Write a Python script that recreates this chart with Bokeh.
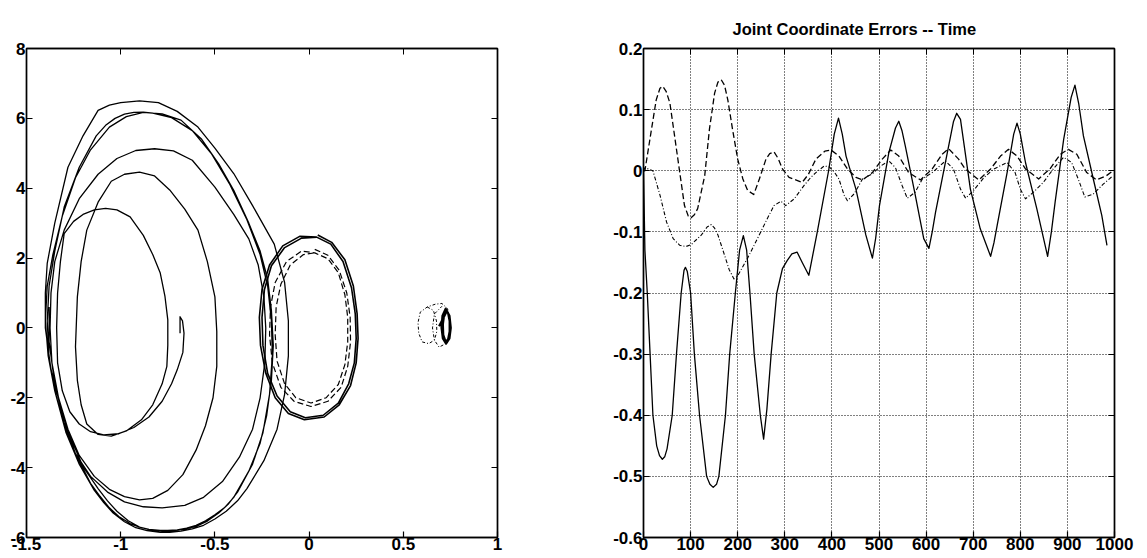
from bokeh.plotting import figure
from bokeh.layouts import row
from bokeh.models import LinearAxis, Range1d, FixedTicker
from bokeh.embed import file_html
from bokeh.resources import INLINE

FONT = "Liberation Sans"

# ---------------- left panel: phase portrait ----------------
spiral_xy = [
    (-0.685, -0.15), (-0.685, 0.32), (-0.672, 0.2), (-0.664, -0.15), (-0.67, -0.7), (-0.70, -1.2),
    (-0.73, -1.6), (-0.78, -2.1), (-0.85, -2.55), (-0.93, -2.85), (-1.01, -3.03), (-1.09, -3.06),
    (-1.16, -2.97), (-1.22, -2.75), (-1.27, -2.4), (-1.31, -1.8), (-1.335, -1.0), (-1.34, 0.0),
    (-1.335, 1.0), (-1.32, 1.9), (-1.30, 2.7), (-1.25, 3.05), (-1.20, 3.25), (-1.14, 3.38),
    (-1.08, 3.42), (-1.02, 3.38), (-0.95, 3.18), (-0.88, 2.65), (-0.83, 2.1), (-0.79, 1.57),
    (-0.765, 0.9), (-0.75, 0.23), (-0.75, -0.5), (-0.755, -1.1), (-0.78, -1.6), (-0.83, -2.2),
    (-0.89, -2.63), (-0.97, -2.95), (-1.05, -3.1), (-1.12, -3.05), (-1.18, -2.75), (-1.21, -2.2),
    (-1.23, -1.5), (-1.24, -0.54), (-1.23, 0.89), (-1.21, 1.9), (-1.18, 2.8), (-1.12, 3.6),
    (-1.05, 4.2), (-0.98, 4.4), (-0.90, 4.46), (-0.82, 4.35), (-0.74, 3.95), (-0.66, 3.4),
    (-0.59, 2.8), (-0.54, 1.9), (-0.50, 0.89), (-0.49, -0.1), (-0.49, -1.1), (-0.51, -2.0),
    (-0.55, -2.8), (-0.60, -3.5), (-0.67, -4.2), (-0.75, -4.65), (-0.83, -4.88), (-0.90, -4.92),
    (-0.98, -4.83), (-1.06, -4.62), (-1.14, -4.25), (-1.22, -3.65), (-1.28, -2.9), (-1.33, -2.0),
    (-1.365, -1.0), (-1.375, 0.0), (-1.37, 1.0), (-1.35, 1.9), (-1.30, 2.8), (-1.22, 3.7),
    (-1.12, 4.4), (-1.02, 4.85), (-0.92, 5.08), (-0.82, 5.13), (-0.72, 5.07), (-0.62, 4.8),
    (-0.50, 4.03), (-0.40, 3.25), (-0.32, 2.55), (-0.27, 1.8), (-0.24, 0.9), (-0.23, 0.0),
    (-0.235, -1.0), (-0.26, -2.0), (-0.30, -2.9), (-0.37, -3.7), (-0.46, -4.4), (-0.56, -4.85),
    (-0.66, -5.08), (-0.78, -5.15), (-0.88, -5.12), (-0.98, -4.98), (-1.07, -4.7), (-1.16, -4.25),
    (-1.24, -3.6), (-1.30, -2.8), (-1.35, -1.8), (-1.385, -0.8), (-1.40, 0.2), (-1.39, 1.2),
    (-1.36, 2.1), (-1.31, 3.2), (-1.24, 4.3), (-1.16, 5.1), (-1.06, 5.75), (-0.97, 6.05),
    (-0.88, 6.17), (-0.78, 6.13), (-0.68, 5.95), (-0.57, 5.4), (-0.48, 4.7), (-0.40, 3.94),
    (-0.32, 3.0), (-0.26, 2.2), (-0.22, 1.4), (-0.20, 0.5), (-0.19, -0.5), (-0.20, -1.5),
    (-0.225, -2.5), (-0.26, -3.3), (-0.32, -4.1), (-0.40, -4.85), (-0.45, -5.15), (-0.50, -5.35),
    (-0.55, -5.52), (-0.60, -5.65), (-0.65, -5.73), (-0.70, -5.78), (-0.75, -5.8), (-0.79, -5.8),
    (-0.85, -5.77), (-0.90, -5.7), (-0.96, -5.52), (-1.02, -5.25), (-1.07, -4.95), (-1.12, -4.6),
    (-1.20, -3.97), (-1.27, -3.1), (-1.32, -2.2), (-1.37, -1.2), (-1.40, 0.0), (-1.40, 1.0),
    (-1.39, 1.85), (-1.35, 3.0), (-1.28, 4.6), (-1.20, 5.5), (-1.12, 6.23), (-1.06, 6.38),
    (-1.00, 6.45), (-0.90, 6.5), (-0.80, 6.45), (-0.70, 6.2), (-0.59, 5.75), (-0.50, 5.15),
    (-0.40, 4.42), (-0.30, 3.5), (-0.185, 2.4), (-0.13, 1.3), (-0.11, 0.2), (-0.11, -0.8),
    (-0.13, -1.9), (-0.17, -2.9), (-0.24, -3.8), (-0.33, -4.6), (-0.38, -4.95), (-0.44, -5.25),
    (-0.50, -5.47), (-0.56, -5.65), (-0.62, -5.75), (-0.68, -5.82), (-0.74, -5.85), (-0.79, -5.85),
    (-0.86, -5.8), (-0.92, -5.72), (-0.98, -5.55), (-1.04, -5.3), (-1.09, -5.0), (-1.14, -4.65),
    (-1.22, -3.9), (-1.29, -3.0), (-1.34, -2.0), (-1.38, -0.9), (-1.39, 0.2), (-1.38, 1.2),
    (-1.35, 2.2), (-1.30, 3.46), (-1.22, 4.6), (-1.13, 5.5), (-1.08, 5.8), (-1.03, 6.0),
    (-0.98, 6.12), (-0.93, 6.17), (-0.88, 6.18), (-0.83, 6.15), (-0.73, 6.02), (-0.62, 5.65),
    (-0.52, 5.0), (-0.42, 4.1), (-0.33, 3.1), (-0.26, 2.1), (-0.22, 1.2), (-0.20, 0.2),
    (-0.195, -0.8), (-0.21, -1.9), (-0.245, -3.0), (-0.30, -3.9), (-0.38, -4.7), (-0.43, -5.05),
    (-0.48, -5.3), (-0.54, -5.53), (-0.60, -5.68), (-0.66, -5.76), (-0.72, -5.8), (-0.78, -5.81),
    (-0.84, -5.78), (-0.90, -5.7), (-0.95, -5.6), (-1.01, -5.4), (-1.06, -5.15), (-1.11, -4.82),
    (-1.16, -4.45), (-1.24, -3.6), (-1.30, -2.7), (-1.35, -1.6), (-1.38, -0.4), (-1.38, 0.6),
]

loop_solid_xy = [
    (0.046, 2.66), (0.12, 2.45), (0.19, 1.95), (0.235, 1.2), (0.255, 0.4), (0.26, -0.3),
    (0.25, -1.0), (0.22, -1.65), (0.16, -2.2), (0.08, -2.55), (-0.025, -2.63), (-0.11, -2.45),
    (-0.18, -2.0), (-0.23, -1.3), (-0.258, -0.5), (-0.264, 0.3), (-0.25, 1.1), (-0.21, 1.8),
    (-0.14, 2.35), (-0.05, 2.62), (0.04, 2.6), (0.115, 2.4), (0.18, 1.9), (0.225, 1.15),
    (0.245, 0.4), (0.25, -0.3), (0.24, -1.0), (0.21, -1.6), (0.155, -2.15), (0.075, -2.5),
    (-0.02, -2.57), (-0.10, -2.4), (-0.17, -1.95), (-0.22, -1.3), (-0.245, -0.5), (-0.25, 0.3),
    (-0.237, 1.1), (-0.20, 1.78), (-0.13, 2.3), (-0.04, 2.57), (0.04, 2.6),
]

loop_dashed_xy = [
    (0.03, 2.25), (0.10, 2.08), (0.16, 1.65), (0.20, 1.0), (0.218, 0.3), (0.22, -0.4),
    (0.205, -1.1), (0.17, -1.7), (0.10, -2.1), (0.01, -2.25), (-0.08, -2.1), (-0.15, -1.7),
    (-0.195, -1.0), (-0.21, -0.2), (-0.205, 0.6), (-0.18, 1.3), (-0.12, 1.9), (-0.04, 2.2),
    (0.03, 2.15), (0.10, 1.98), (0.155, 1.58), (0.19, 0.95), (0.205, 0.3), (0.205, -0.4),
    (0.19, -1.05), (0.155, -1.62), (0.09, -2.0), (0.01, -2.15), (-0.07, -2.0), (-0.13, -1.6),
    (-0.17, -0.95), (-0.18, -0.2), (-0.175, 0.6), (-0.15, 1.25), (-0.10, 1.8), (-0.03, 2.1),
    (0.03, 2.15),
]

small_dashdot_xy = [
    (0.627, 0.6), (0.66, 0.5), (0.676, 0.2), (0.678, -0.1), (0.665, -0.35), (0.635, -0.45),
    (0.60, -0.4), (0.582, -0.15), (0.578, 0.15), (0.59, 0.45), (0.627, 0.6), (0.67, 0.68),
    (0.705, 0.7), (0.735, 0.55), (0.748, 0.2), (0.745, -0.2), (0.725, -0.45), (0.69, -0.55),
    (0.665, -0.35), (0.655, 0.0), (0.665, 0.4), (0.705, 0.62),
]

small_solid_xy = [
    (0.725, 0.55), (0.745, 0.35), (0.752, 0.0), (0.745, -0.3), (0.727, -0.45), (0.71, -0.3),
    (0.703, 0.0), (0.708, 0.35), (0.725, 0.55), (0.738, 0.42), (0.746, 0.2), (0.746, -0.1),
    (0.738, -0.32), (0.725, -0.4), (0.712, -0.2), (0.71, 0.1), (0.716, 0.35), (0.728, 0.45),
    (0.69, 0.05),
]

left_xticks = [-1.5, -1, -0.5, 0, 0.5, 1]
left_xlabels = ["-1.5", "-1", "-0.5", "0", "0.5", "1"]
left_yticks = [-6, -4, -2, 0, 2, 4, 6, 8]
left_ylabels = ["-6", "-4", "-2", "0", "2", "4", "6", "8"]

# ---------------- right panel: errors vs time ----------------
t_solid = [0, 3, 8, 14, 20, 28, 34, 40, 45, 50, 61, 70, 80, 86, 89, 93, 100, 108, 119, 134,
           141, 148, 155, 160, 174, 183, 195, 204, 212, 219, 226, 235, 248, 255, 262, 271, 283,
           295, 305, 315, 326, 337, 351, 369, 393, 405, 414, 422, 430, 451, 472, 486, 493, 501,
           521, 535, 542, 549, 556, 577, 595, 606, 613, 620, 641, 658, 665, 673, 694, 715, 737,
           744, 751, 772, 786, 793, 800, 811, 835, 858, 866, 874, 892, 908, 916, 924, 934, 955,
           973, 984]
e_solid = [0.0, -0.13, -0.2, -0.3, -0.4, -0.45, -0.466, -0.472, -0.468, -0.455, -0.4, -0.3,
           -0.2, -0.163, -0.158, -0.165, -0.2, -0.3, -0.4, -0.5, -0.513, -0.518, -0.513, -0.5,
           -0.4, -0.3, -0.2, -0.13, -0.106, -0.13, -0.2, -0.3, -0.4, -0.439, -0.39, -0.3,
           -0.2, -0.16, -0.147, -0.136, -0.133, -0.15, -0.171, -0.1, 0.0, 0.06, 0.086, 0.06,
           0.024, -0.03, -0.105, -0.143, -0.11, -0.057, 0.03, 0.07, 0.081, 0.065, 0.04, -0.04,
           -0.111, -0.127, -0.1, -0.068, 0.0135, 0.08, 0.094, 0.084, -0.03, -0.095, -0.14,
           -0.118, -0.089, -0.003, 0.06, 0.078, 0.06, 0.0135, -0.062, -0.14, -0.1, -0.051,
           0.051, 0.12, 0.14, 0.11, 0.057, -0.0135, -0.073, -0.122]

t_dashed = [0, 3, 17, 27, 35, 41, 48, 56, 66, 77, 87, 95, 101, 108, 115, 130, 140, 151, 158,
            165, 172, 179, 189, 200, 211, 221, 234, 246, 260, 268, 277, 286, 295, 309, 327, 337,
            350, 366, 385, 398, 415, 433, 451, 465, 486, 507, 525, 542, 563, 588, 613, 634, 648,
            669, 683, 712, 737, 758, 775, 793, 811, 839, 863, 885, 902, 920, 941, 962, 983, 997]
e_dashed = [0.0, 0.0, 0.068, 0.116, 0.135, 0.138, 0.13, 0.111, 0.057, -0.003, -0.057, -0.074,
            -0.077, -0.072, -0.062, -0.008, 0.068, 0.127, 0.145, 0.149, 0.14, 0.116, 0.068,
            0.019, -0.0135, -0.032, -0.039, -0.0135, 0.019, 0.028, 0.031, 0.02, 0.003, -0.011,
            -0.016, -0.019, -0.006, 0.019, 0.032, 0.034, 0.024, 0.003, -0.011, -0.015, -0.003,
            0.019, 0.034, 0.024, -0.003, -0.015, 0.003, 0.027, 0.036, 0.019, 0.003, -0.015,
            0.003, 0.024, 0.035, 0.024, 0.003, -0.0135, 0.003, 0.027, 0.035, 0.027, -0.003,
            -0.015, -0.008, 0.0]

t_dashdot = [0, 3, 20, 35, 49, 63, 77, 90, 101, 123, 135, 144, 151, 158, 172, 182, 192, 200,
             210, 221, 242, 263, 277, 292, 302, 320, 341, 355, 366, 384, 395, 405, 415, 426, 433,
             447, 465, 486, 504, 521, 535, 549, 560, 577, 592, 613, 641, 658, 673, 684, 701, 723,
             744, 772, 789, 800, 811, 828, 849, 870, 892, 909, 923, 937, 955, 976, 997]
e_dashdot = [0.0, 0.005, 0.0, -0.04, -0.084, -0.111, -0.122, -0.124, -0.121, -0.105, -0.092,
             -0.088, -0.094, -0.105, -0.138, -0.162, -0.177, -0.172, -0.158, -0.143, -0.111,
             -0.078, -0.057, -0.05, -0.057, -0.046, -0.024, -0.011, -0.003, 0.008, 0.006,
             -0.002, -0.0135, -0.04, -0.049, -0.038, -0.0135, -0.005, 0.008, 0.016, 0.005,
             -0.024, -0.045, -0.035, -0.0135, -0.003, 0.016, 0.003, -0.03, -0.045, -0.032,
             -0.011, 0.003, 0.0135, -0.003, -0.03, -0.046, -0.035, -0.019, 0.003, 0.022, 0.0135,
             -0.0135, -0.043, -0.038, -0.022, -0.008]

right_title = "Joint Coordinate Errors -- Time"
right_xticks = [0, 100, 200, 300, 400, 500, 600, 700, 800, 900, 1000]
right_xlabels = ["0", "100", "200", "300", "400", "500", "600", "700", "800", "900", "1000"]
right_yticks = [-0.6, -0.5, -0.4, -0.3, -0.2, -0.1, 0.0, 0.1, 0.2]
right_ylabels = ["-0.6", "-0.5", "-0.4", "-0.3", "-0.2", "-0.1", "0", "0.1", "0.2"]


def style_axes(p, xticks, xlabels, yticks, ylabels):
    p.xaxis.ticker = FixedTicker(ticks=xticks)
    p.yaxis.ticker = FixedTicker(ticks=yticks)
    p.xaxis.major_label_overrides = {k: v for k, v in zip(xticks, xlabels)}
    p.yaxis.major_label_overrides = {k: v for k, v in zip(yticks, ylabels)}
    for ax in (p.xaxis[0], p.yaxis[0]):
        ax.major_label_text_font = FONT
        ax.major_label_text_font_style = "bold"
        ax.major_label_text_font_size = "17px"
        ax.major_label_text_color = "black"
        ax.major_tick_in = 6
        ax.major_tick_out = 0
        ax.minor_tick_line_color = None
        ax.axis_line_color = "black"
        ax.axis_line_width = 1.4
        ax.major_tick_line_color = "black"
        ax.major_tick_line_width = 1.2
    p.xaxis.major_label_standoff = 0
    p.yaxis.major_label_standoff = 1
    # ticks on the opposite sides (no labels)
    top = LinearAxis(ticker=FixedTicker(ticks=xticks), major_tick_in=6, major_tick_out=0,
                     minor_tick_line_color=None, axis_line_color="black", axis_line_width=1.4,
                     major_label_overrides={k: "" for k in xticks}, major_label_standoff=0)
    right = LinearAxis(ticker=FixedTicker(ticks=yticks), major_tick_in=6, major_tick_out=0,
                       minor_tick_line_color=None, axis_line_color="black", axis_line_width=1.4,
                       major_label_overrides={k: "" for k in yticks}, major_label_standoff=0)
    p.add_layout(top, "above")
    p.add_layout(right, "right")
    p.outline_line_color = "black"
    p.outline_line_width = 1.4


# left figure
pl = figure(width=560, height=558, output_backend="svg", toolbar_location=None,
            x_range=Range1d(-1.5, 1), y_range=Range1d(-6, 8),
            min_border_left=26, min_border_right=63, min_border_top=48, min_border_bottom=20,
            background_fill_color="white", border_fill_color="white")
pl.grid.visible = False
style_axes(pl, left_xticks, left_xlabels, left_yticks, left_ylabels)

pl.line([p[0] for p in spiral_xy], [p[1] for p in spiral_xy], line_color="black",
        line_width=1.3, line_join="round")
pl.line([p[0] for p in loop_solid_xy], [p[1] for p in loop_solid_xy], line_color="black",
        line_width=1.6, line_join="round")
pl.line([p[0] for p in loop_dashed_xy], [p[1] for p in loop_dashed_xy], line_color="black",
        line_width=1.2, line_dash="6 3", line_join="round")
pl.line([p[0] for p in small_dashdot_xy], [p[1] for p in small_dashdot_xy], line_color="black",
        line_width=1.0, line_dash="3 2 1 2", line_join="round")
pl.line([p[0] for p in small_solid_xy], [p[1] for p in small_solid_xy], line_color="black",
        line_width=2.2, line_join="round")

# right figure
pr = figure(width=587, height=558, output_backend="svg", toolbar_location=None,
            x_range=Range1d(0, 1000), y_range=Range1d(-0.6, 0.2),
            min_border_left=83, min_border_right=33, min_border_top=45, min_border_bottom=21,
            background_fill_color="white", border_fill_color="white")
style_axes(pr, right_xticks, right_xlabels, right_yticks, right_ylabels)
pr.grid.grid_line_color = "black"
pr.grid.grid_line_dash = "1 2"
pr.grid.grid_line_width = 1.0
pr.title.text = right_title
pr.title.text_font = FONT
pr.title.text_font_style = "bold"
pr.title.text_font_size = "16.5px"
pr.title.text_color = "black"
pr.title.align = "left"
pr.title.offset = 89
pr.title.standoff = 21

pr.line(t_solid, e_solid, line_color="black", line_width=1.3, line_join="round")
pr.line(t_dashed, e_dashed, line_color="black", line_width=1.3, line_dash="6 3",
        line_join="round")
pr.line(t_dashdot, e_dashdot, line_color="black", line_width=1.1, line_dash="4 2 1 2",
        line_join="round")

layout = row(pl, pr)
with open("out.html", "w") as f:
    f.write(file_html(layout, INLINE))
